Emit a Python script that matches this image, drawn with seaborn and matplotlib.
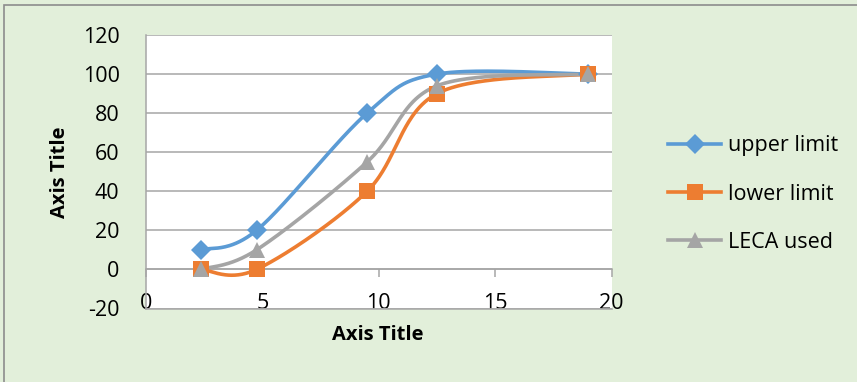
import numpy as np
import pandas as pd
import matplotlib
matplotlib.use("Agg")
import matplotlib.pyplot as plt
from matplotlib.lines import Line2D
from matplotlib.patches import Rectangle
import seaborn as sns

# Sieve sizes (mm) and percent passing for each gradation
sieve_size = [2.36, 4.75, 9.5, 12.5, 19]
upper_limit = [10, 20, 80, 100, 100]
lower_limit = [0, 0, 40, 90, 100]
leca_used = [0, 10, 55, 94, 100]

series_names = ["upper limit", "lower limit", "LECA used"]
series_colors = ["#5B9BD5", "#ED7D31", "#A5A5A5"]
series_markers = ["D", "s", "^"]
series_msizes = [10.5, 12, 12]

x_ticks = [0, 5, 10, 15, 20]
y_ticks = [-20, 0, 20, 40, 60, 80, 100, 120]

BG = "#E2EFDA"
GRID = "#A6A6A6"
FONT = "Open Sans"
TICK_SIZE = 15.5
TITLE_SIZE = 14.5


def smooth_curve(xs, ys, n=60):
    """Spreadsheet-style smoothed line: cubic Bezier segments with
    Catmull-Rom control points."""
    p = np.column_stack([xs, ys]).astype(float)
    out = []
    for i in range(len(p) - 1):
        p0 = p[i - 1] if i > 0 else p[i]
        p1, p2 = p[i], p[i + 1]
        p3 = p[i + 2] if i + 2 < len(p) else p[i + 1]
        c1 = p1 + (p2 - p0) / 6.0
        c2 = p2 - (p3 - p1) / 6.0
        t = np.linspace(0, 1, n)[:, None]
        seg = ((1 - t) ** 3) * p1 + 3 * ((1 - t) ** 2) * t * c1 \
            + 3 * (1 - t) * t ** 2 * c2 + t ** 3 * p2
        out.append(seg if i == 0 else seg[1:])
    pts = np.vstack(out)
    return pts[:, 0], pts[:, 1]


fig = plt.figure(figsize=(8.57, 3.82), dpi=100)
fig.patch.set_facecolor(BG)
fig.patches.append(Rectangle((4 / 857, -0.2), 1.2, 1 - 5 / 382 + 0.2,
                             transform=fig.transFigure, fill=False,
                             edgecolor="#8C8C8C", linewidth=1.2, zorder=0))

ax = fig.add_axes([146 / 857, 1 - 308.5 / 382, (611.5 - 146) / 857,
                   (308.5 - 35) / 382])
ax.set_facecolor("white")

for name, ys, col, mk, ms in zip(series_names,
                                 [upper_limit, lower_limit, leca_used],
                                 series_colors, series_markers, series_msizes):
    sx, sy = smooth_curve(sieve_size, ys)
    curve = pd.DataFrame({"x": sx, "y": sy})
    sns.lineplot(data=curve, x="x", y="y", sort=False, estimator=None,
                 color=col, linewidth=2.6, ax=ax, zorder=3)
    pts = pd.DataFrame({"x": sieve_size, "y": ys})
    ax.plot(pts["x"], pts["y"], linestyle="none", marker=mk, markersize=ms,
            color=col, markeredgewidth=0, zorder=4)

ax.set_xlabel("")
ax.set_ylabel("")
ax.set_xlim(0, 20)
ax.set_ylim(-20, 120)
ax.set_xticks(x_ticks)
ax.set_yticks(y_ticks)
ax.set_xticklabels([str(v) for v in x_ticks])
ax.set_yticklabels([str(v) for v in y_ticks])
ax.grid(axis="y", color=GRID, linewidth=1.1)
ax.grid(axis="x", visible=False)
ax.set_axisbelow(True)

for side in ["top", "right"]:
    ax.spines[side].set_visible(False)
ax.spines["left"].set_color(GRID)
ax.spines["left"].set_linewidth(1.1)
ax.spines["bottom"].set_color(GRID)
ax.spines["bottom"].set_linewidth(1.1)

ax.tick_params(axis="y", length=0, pad=19, labelsize=TICK_SIZE)
ax.tick_params(axis="x", length=0, pad=-11, labelsize=TICK_SIZE)
for lab in ax.get_xticklabels() + ax.get_yticklabels():
    lab.set_fontfamily(FONT)

# horizontal axis line crossing at y = 0, with outside tick marks
sec = ax.secondary_xaxis(0, transform=ax.transData)
sec.set_xticks(x_ticks)
sec.set_xticklabels([])
sec.tick_params(axis="x", direction="out", length=6, width=1.1, color=GRID)
sec.spines["bottom"].set_color(GRID)
sec.spines["bottom"].set_linewidth(1.1)

fig.text(378 / 857, 1 - 335 / 382, "Axis Title", ha="center", va="center",
         fontsize=TITLE_SIZE, fontweight="bold", family=FONT)
fig.text(60 / 857, 1 - 172 / 382, "Axis Title", ha="center", va="center",
         rotation=90, fontsize=TITLE_SIZE, fontweight="bold", family=FONT)

handles = [Line2D([0], [0], color=c, linewidth=2.6, marker=m, markersize=s,
                  markeredgewidth=0)
           for c, m, s in zip(series_colors, series_markers, series_msizes)]
leg = fig.legend(handles, series_names, loc="center left",
                 bbox_to_anchor=(649 / 857, 1 - 194 / 382), frameon=False,
                 borderpad=0.4, handlelength=2.45, handletextpad=0.3,
                 labelspacing=1.27,
                 prop={"family": FONT, "size": TICK_SIZE})

fig.savefig("out.png", dpi=100, facecolor=BG)
